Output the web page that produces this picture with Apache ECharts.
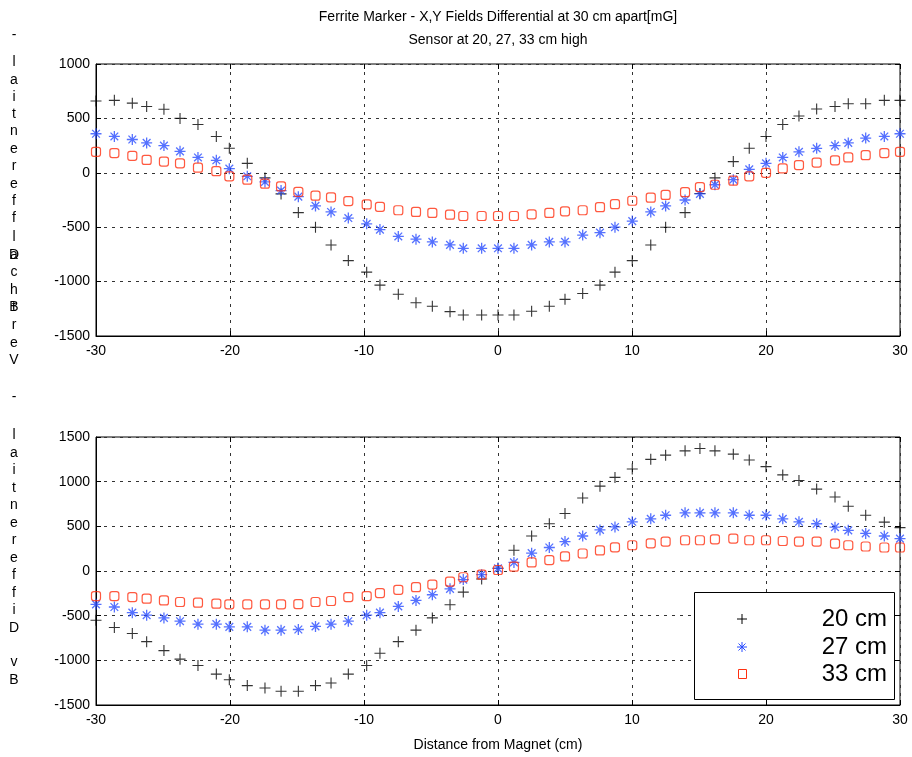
<!DOCTYPE html>
<html>
<head>
<meta charset="utf-8">
<script src="https://cdn.jsdelivr.net/npm/echarts@6/dist/echarts.min.js"></script>
<style>
html,body{margin:0;padding:0;background:#fff;}
#chart{width:912px;height:757px;}
</style>
</head>
<body>
<div id="chart"></div>
<script>
// ---- data ----
const xPos = [-30.0,-28.63,-27.29,-26.22,-24.93,-23.73,-22.39,-21.02,-20.05,-18.71,-17.39,-16.19,-14.90,-13.62,-12.46,-11.17,-9.80,-8.81,-7.44,-6.12,-4.90,-3.58,-2.59,-1.22,0.0,1.19,2.51,3.83,5.0,6.32,7.61,8.73,10.02,11.40,12.51,13.96,15.07,16.19,17.56,18.75,20.0,21.25,22.46,23.78,25.15,26.14,27.44,28.83,30.0];

const topBlack = [660,666,640,610,584,500,444,334,225,87,-47,-194,-366,-500,-663,-807,-913,-1032,-1116,-1195,-1226,-1276,-1307,-1307,-1307,-1307,-1273,-1226,-1163,-1110,-1032,-913,-807,-663,-500,-366,-190,-47,103,225,334,444,522,587,610,634,634,666,666];
const topBlue  = [359,334,306,275,250,197,141,115,38,-32,-84,-163,-219,-304,-360,-416,-469,-522,-585,-610,-635,-663,-694,-694,-694,-694,-663,-635,-635,-572,-550,-500,-444,-360,-304,-250,-194,-110,-63,31,87,141,193,225,250,275,319,334,359];
const topRed   = [193,181,156,118,103,87,47,15,-32,-63,-100,-125,-175,-210,-225,-260,-291,-313,-344,-360,-369,-385,-397,-397,-397,-397,-382,-369,-354,-344,-316,-288,-257,-229,-203,-178,-131,-110,-72,-32,0,40,71,94,115,141,162,181,193];

const botBlack = [-551,-632,-699,-791,-891,-987,-1057,-1154,-1217,-1283,-1309,-1346,-1346,-1283,-1253,-1154,-1057,-920,-791,-662,-525,-377,-236,-89,30,233,392,529,643,817,950,1048,1142,1250,1297,1345,1371,1345,1308,1242,1168,1076,1013,917,828,724,624,547,485];
const botBlue  = [-373,-403,-466,-495,-525,-562,-595,-595,-625,-625,-662,-662,-655,-620,-595,-562,-495,-466,-396,-329,-266,-200,-96,-41,30,96,200,263,329,392,460,493,551,584,624,651,651,651,651,624,624,584,551,529,491,455,421,392,363];
const botRed   = [-281,-281,-292,-310,-329,-347,-355,-366,-373,-373,-373,-373,-370,-347,-336,-292,-281,-247,-211,-181,-152,-119,-70,-41,11,48,96,122,163,196,230,265,288,310,329,344,344,355,363,344,344,336,329,329,307,288,274,263,263];

const seriesNames = ['20 cm','27 cm','33 cm'];
const titleLines = ['Ferrite Marker - X,Y Fields Differential at 30 cm apart[mG]','Sensor at 20, 27, 33 cm high'];
const xAxisName = 'Distance from Magnet (cm)';
const topYLabelChars = [['-',35],['l',62],['a',80],['i',97],['t',114],['n',131],['e',149],['r',166],['e',184],['f',201],['f',218],['l',237],['a',255],['D',255],['c',272],['h',290],['B',307],['t',307],['r',325],['e',343],['V',360]];
const botYLabelChars = [['-',397],['l',435],['a',453],['i',470],['t',488],['n',505],['e',523],['r',540],['e',558],['f',575],['f',593],['i',610],['D',628],['v',662],['B',680]];

// ---- styles ----
const FONT = 'Liberation Sans, Arial, Helvetica, sans-serif';
const BLACK = '#000000', BLUE = '#2a4dff', RED = '#ff3010';
const PLUS = 'path://M0,5L10,5M5,0L5,10';
const STAR = 'path://M0,5L10,5M5,0L5,10M1.5,1.5L8.5,8.5M1.5,8.5L8.5,1.5';

function pairs(ys){ return xPos.map((x,i)=>[x, ys[i]]); }

const G = [
  {left:96, top:64, width:804, height:272},
  {left:96, top:437, width:804, height:268}
];

const splitLine = {show:true, lineStyle:{color:'#333', type:[3,5], width:1}};
function xMain(gi, withName){
  const a = {type:'value', gridIndex:gi, min:-30, max:30, interval:10, position:'bottom',
    axisLine:{show:true, onZero:false, lineStyle:{color:'#000', width:1}},
    axisTick:{show:true, inside:true, length:5, lineStyle:{color:'#000'}},
    axisLabel:{show:true, color:'#000', fontSize:14, fontFamily:FONT, margin:8, formatter:v=>String(v)},
    splitLine: splitLine};
  if (withName){
    a.name = xAxisName; a.nameLocation='middle'; a.nameGap=33;
    a.nameTextStyle={color:'#000', fontSize:14, fontFamily:FONT};
  }
  return a;
}
function xTop(gi){
  return {type:'value', gridIndex:gi, min:-30, max:30, interval:10, position:'top',
    axisLine:{show:false, onZero:false}, axisTick:{show:true, inside:true, length:5, lineStyle:{color:'#000'}},
    axisLabel:{show:false}, splitLine:{show:false}};
}
function yMain(gi, mn, mx){
  return {type:'value', gridIndex:gi, min:mn, max:mx, interval:500, position:'left',
    axisLine:{show:true, onZero:false, lineStyle:{color:'#000', width:1}},
    axisTick:{show:true, inside:true, length:5, lineStyle:{color:'#000'}},
    axisLabel:{show:true, color:'#000', fontSize:14, fontFamily:FONT, margin:6, formatter:v=>String(v)},
    splitLine: splitLine};
}
function yRight(gi, mn, mx){
  return {type:'value', gridIndex:gi, min:mn, max:mx, interval:500, position:'right',
    axisLine:{show:false, onZero:false}, axisTick:{show:true, inside:true, length:5, lineStyle:{color:'#000'}},
    axisLabel:{show:false}, splitLine:{show:false}};
}

function scatter(name, data, xi, yi, kind){
  const s = {name:name, type:'scatter', xAxisIndex:xi, yAxisIndex:yi, data:data,
    silent:true, emphasis:{disabled:true}, animation:false};
  if (kind===0){ s.symbol=PLUS; s.symbolSize=11; s.itemStyle={color:BLACK, borderColor:BLACK, borderWidth:1.1}; }
  if (kind===1){ s.symbol=STAR; s.symbolSize=11; s.itemStyle={color:BLUE, borderColor:BLUE, borderWidth:1.3}; }
  if (kind===2){ s.symbol='roundRect'; s.symbolSize=9; s.itemStyle={color:'rgba(0,0,0,0)', borderColor:RED, borderWidth:1.2}; }
  return s;
}

const graphics = [];
graphics.push({type:'text', x:498, y:10, style:{text:titleLines[0], fill:'#000', font:'14px '+FONT, textAlign:'center', textVerticalAlign:'top'}});
graphics.push({type:'text', x:498, y:33, style:{text:titleLines[1], fill:'#000', font:'14px '+FONT, textAlign:'center', textVerticalAlign:'top'}});
topYLabelChars.concat(botYLabelChars).forEach(c=>{
  graphics.push({type:'text', x:14, y:c[1], style:{text:c[0], fill:'#000', font:'14px '+FONT, textAlign:'center', textVerticalAlign:'middle'}});
});
// legend box
graphics.push({type:'rect', shape:{x:694.5, y:592.5, width:200, height:107}, style:{fill:'#fff', stroke:'#000', lineWidth:1}, z:100});
const legY = [619, 647, 674];
graphics.push({type:'line', shape:{x1:737, y1:legY[0], x2:747, y2:legY[0]}, style:{stroke:BLACK, lineWidth:1}, z:101});
graphics.push({type:'line', shape:{x1:742, y1:legY[0]-5, x2:742, y2:legY[0]+5}, style:{stroke:BLACK, lineWidth:1}, z:101});
graphics.push({type:'line', shape:{x1:737, y1:legY[1], x2:747, y2:legY[1]}, style:{stroke:BLUE, lineWidth:1}, z:101});
graphics.push({type:'line', shape:{x1:742, y1:legY[1]-5, x2:742, y2:legY[1]+5}, style:{stroke:BLUE, lineWidth:1}, z:101});
graphics.push({type:'line', shape:{x1:738.5, y1:legY[1]-3.5, x2:745.5, y2:legY[1]+3.5}, style:{stroke:BLUE, lineWidth:1}, z:101});
graphics.push({type:'line', shape:{x1:738.5, y1:legY[1]+3.5, x2:745.5, y2:legY[1]-3.5}, style:{stroke:BLUE, lineWidth:1}, z:101});
graphics.push({type:'rect', shape:{x:738.5, y:legY[2]-4.5, width:8, height:9}, style:{fill:'rgba(0,0,0,0)', stroke:RED, lineWidth:1}, z:101});
seriesNames.forEach((n,i)=>{
  graphics.push({type:'text', x:887, y:legY[i], style:{text:n, fill:'#000', font:'24px '+FONT, textAlign:'right', textVerticalAlign:'middle'}, z:101});
});

const option = {
  animation:false,
  backgroundColor:'#fff',
  textStyle:{fontFamily:FONT},
  grid: G.map(g=>Object.assign({show:true, borderColor:'#000', borderWidth:1, backgroundColor:'rgba(0,0,0,0)', containLabel:false}, g)),
  xAxis:[xMain(0,false), xMain(1,true), xTop(0), xTop(1)],
  yAxis:[yMain(0,-1500,1000), yMain(1,-1500,1500), yRight(0,-1500,1000), yRight(1,-1500,1500)],
  series:[
    scatter(seriesNames[0], pairs(topBlack), 0, 0, 0),
    scatter(seriesNames[1], pairs(topBlue), 0, 0, 1),
    scatter(seriesNames[2], pairs(topRed), 0, 0, 2),
    scatter(seriesNames[0], pairs(botBlack), 1, 1, 0),
    scatter(seriesNames[1], pairs(botBlue), 1, 1, 1),
    scatter(seriesNames[2], pairs(botRed), 1, 1, 2)
  ],
  graphic: graphics
};

const chart = echarts.init(document.getElementById('chart'), null, {renderer:'canvas'});
chart.setOption(option);
</script>
</body>
</html>
